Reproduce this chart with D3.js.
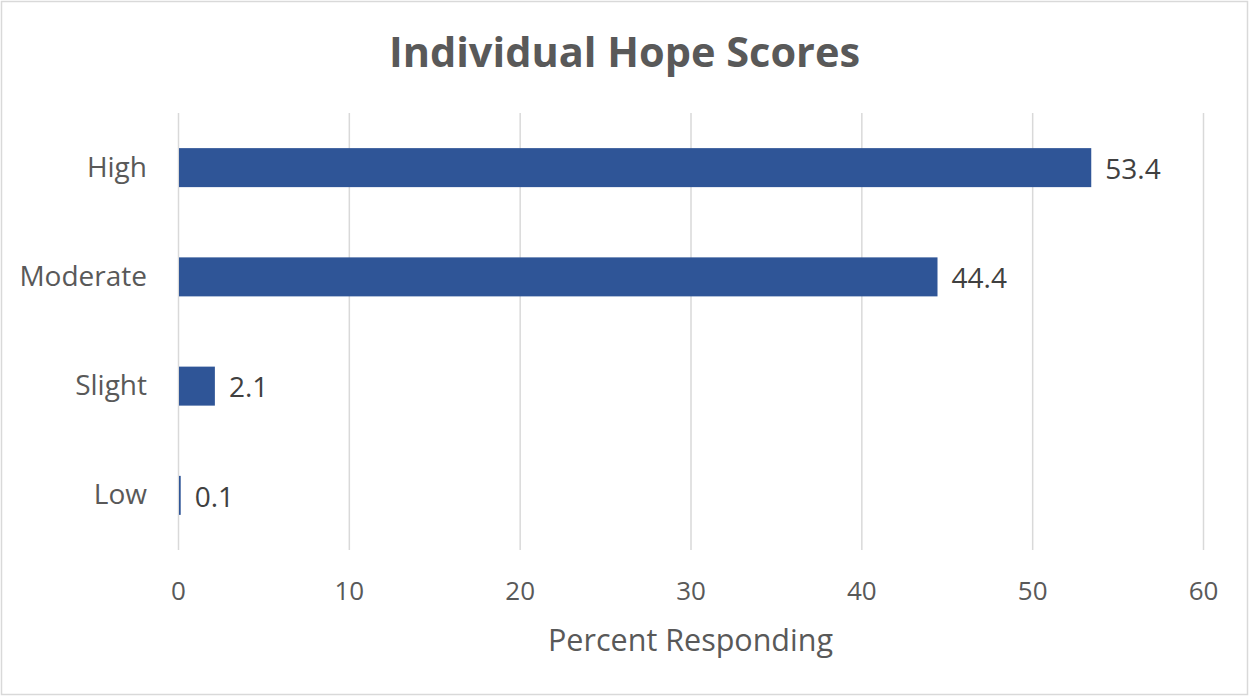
<!DOCTYPE html>
<html>
<head>
<meta charset="utf-8">
<script src="https://cdn.jsdelivr.net/npm/d3@7/dist/d3.min.js"></script>
<style>
  html, body { margin: 0; padding: 0; background: #fff; }
  svg { display: block; font-family: "Open Sans", "Noto Sans", sans-serif; }
</style>
</head>
<body>
<svg id="chart" width="1249" height="696"></svg>
<script>
// Hope score categories, top to bottom, and the percent responding in each
const categories = ["High", "Moderate", "Slight", "Low"];
const percents = [53.4, 44.4, 2.1, 0.1];
const xTicks = [0, 10, 20, 30, 40, 50, 60];
const titleText = "Individual Hope Scores";
const xAxisTitle = "Percent Responding";

const W = 1249, H = 696;
const plot = { left: 178, right: 1203, top: 113, bottom: 550 };

const svg = d3.select("#chart");

// outer chart border
svg.append("rect")
  .attr("x", 1.5).attr("y", 1.5)
  .attr("width", W - 3).attr("height", H - 3)
  .attr("fill", "#fff").attr("stroke", "#d9d9d9").attr("stroke-width", 1.5);

const x = d3.scaleLinear().domain([0, 60]).range([plot.left, plot.right]);
const y = d3.scaleBand().domain(categories).range([plot.top, plot.bottom])
  .paddingInner(0.643).paddingOuter(0.3215);

// vertical gridlines
svg.append("g").selectAll("line").data(xTicks).join("line")
  .attr("x1", d => x(d) + 0.5).attr("x2", d => x(d) + 0.5)
  .attr("y1", plot.top).attr("y2", plot.bottom)
  .attr("stroke", "#d9d9d9").attr("stroke-width", 1.5);

// bars
svg.append("g").selectAll("rect").data(categories).join("rect")
  .attr("x", x(0) + 1)
  .attr("y", d => y(d))
  .attr("width", (d, i) => Math.max(x(percents[i]) - x(0), 1))
  .attr("height", y.bandwidth())
  .attr("fill", "#2f5597");

// value labels
svg.append("g").selectAll("text").data(categories).join("text")
  .attr("x", (d, i) => x(percents[i]) + 15)
  .attr("y", d => y(d) + y.bandwidth() / 2)
  .attr("dy", "0.4em")
  .attr("font-size", 28)
  .attr("fill", "#404040")
  .text((d, i) => percents[i].toFixed(1));

// category axis labels
const yAxis = d3.axisLeft(y).tickSize(0).tickPadding(31);
const gy = svg.append("g").attr("transform", `translate(${plot.left},0)`).call(yAxis);
gy.select(".domain").remove();
gy.selectAll("text").attr("font-size", 28).attr("fill", "#595959")
  .attr("font-family", "'Open Sans', sans-serif");

// value axis
const xAxis = d3.axisBottom(x).tickValues(xTicks).tickSize(0).tickPadding(32)
  .tickFormat(d3.format("d"));
const gx = svg.append("g").attr("transform", `translate(0,${plot.bottom})`).call(xAxis);
gx.select(".domain").remove();
gx.selectAll("text").attr("font-size", 26).attr("fill", "#595959")
  .attr("font-family", "'Open Sans', sans-serif");

// axis title
svg.append("text")
  .attr("x", (plot.left + plot.right) / 2)
  .attr("y", 651)
  .attr("text-anchor", "middle")
  .attr("font-size", 30.5)
  .attr("fill", "#595959")
  .text(xAxisTitle);

// chart title
svg.append("text")
  .attr("x", 624.5)
  .attr("y", 67)
  .attr("text-anchor", "middle")
  .attr("font-size", 41.5)
  .attr("font-weight", "bold")
  .attr("fill", "#595959")
  .text(titleText);
</script>
</body>
</html>
